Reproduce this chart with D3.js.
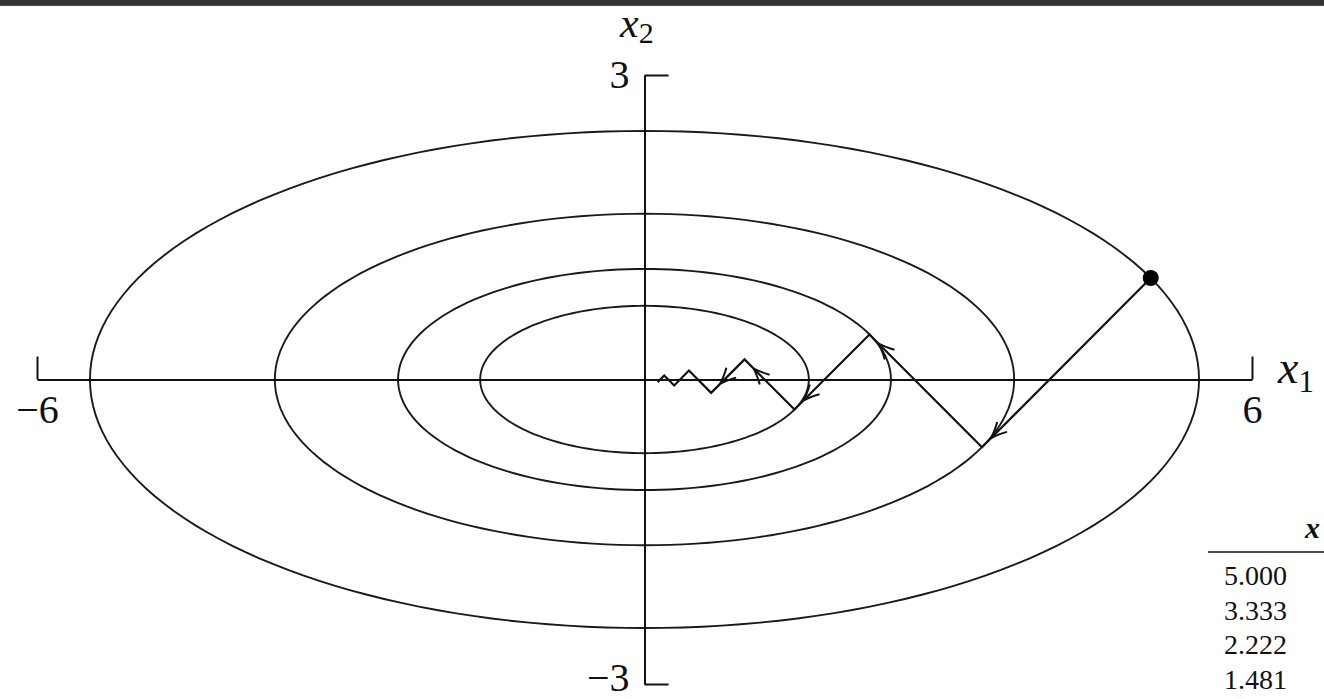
<!DOCTYPE html>
<html>
<head>
<meta charset="utf-8">
<script src="https://cdn.jsdelivr.net/npm/d3@7"></script>
<style>
  html, body { margin: 0; padding: 0; background: #fff; overflow: hidden; }
  .topbar { position: absolute; left: 0; top: 0; width: 1324px; height: 5px; background: #333; border-bottom: 1px solid #4c4c4c; }
  svg { position: absolute; left: 0; top: 0; }
  text { font-family: "Liberation Serif", "DejaVu Serif", serif; fill: #111; }
</style>
</head>
<body>
<div class="topbar"></div>
<div class="canvas"></div>
<script>
var iterX1 = [5.000, 3.333, 2.222, 1.481, 0.988, 0.658, 0.439, 0.293, 0.195, 0.130];
var iterX2 = [1.000, -0.667, 0.444, -0.296, 0.198, -0.132, 0.088, -0.059, 0.039, -0.026];
var arrowCount = 5;

// level curves: semi axes of the ellipses
var ellA = [5.477, 3.651, 2.434, 1.623];
var ellB = [2.449, 1.633, 1.089, 0.726];

var xTicks = [-6, 6];
var yTicks = [-3, 3];

var tableHead = "x";
var tableVals = ["5.000", "3.333", "2.222", "1.481"];

var svg = d3.select(".canvas")
	.append("svg")
	.attr("width", 1324)
	.attr("height", 699);

var x = d3.scaleLinear().domain([-6, 6]).range([37, 1252]);
var y = d3.scaleLinear().domain([-3, 3]).range([684, 75]);

function fmt(d){ return d < 0 ? "\u2212" + Math.abs(d) : "" + d; }

// ELLIPSES
var line = d3.line().x(function(d){ return x(d[0]); }).y(function(d){ return y(d[1]); });
var ts = d3.range(0, 361, 2);
ellA.forEach(function(a, i){
	var b = ellB[i];
	var pts = ts.map(function(t){
		var r = t * Math.PI / 180;
		return [a * Math.cos(r), b * Math.sin(r)];
	});
	svg.append("path")
		.attr("d", line(pts) + "Z")
		.attr("fill", "none")
		.attr("stroke", "#1a1a1a")
		.attr("stroke-width", 1.9);
});

// AXES
var gx = svg.append("g")
	.attr("transform", "translate(0," + y(0) + ")")
	.call(d3.axisTop(x).tickValues(xTicks).tickSize(23).tickSizeOuter(0).tickFormat(fmt));
gx.select(".domain").attr("stroke", "#111").attr("stroke-width", 2);
gx.selectAll(".tick line").attr("stroke", "#111").attr("stroke-width", 2);
gx.selectAll(".tick text")
	.attr("y", 43)
	.attr("dy", null)
	.attr("font-size", 40)
	.attr("font-family", "Liberation Serif");

var gy = svg.append("g")
	.attr("transform", "translate(" + x(0) + ",0)")
	.call(d3.axisRight(y).tickValues(yTicks).tickSize(24).tickSizeOuter(0).tickFormat(fmt));
gy.select(".domain").attr("stroke", "#111").attr("stroke-width", 2);
gy.selectAll(".tick line").attr("stroke", "#111").attr("stroke-width", 2);
gy.selectAll(".tick text")
	.attr("x", -15)
	.attr("dy", function(d){ return d > 0 ? "0.3em" : "0.15em"; })
	.attr("text-anchor", "end")
	.attr("font-size", 40)
	.attr("font-family", "Liberation Serif");

// axis labels
var lx1 = svg.append("text").attr("x", 1278).attr("y", 383).attr("font-size", 46).attr("font-style", "italic");
lx1.append("tspan").text("x");
lx1.append("tspan").attr("dy", 9).attr("font-size", 31).attr("font-style", "normal").text("1");

var lx2 = svg.append("text").attr("x", 620).attr("y", 37).attr("font-size", 42).attr("font-style", "italic");
lx2.append("tspan").text("x");
lx2.append("tspan").attr("dy", 6).attr("font-size", 30).attr("font-style", "normal").text("2");

// PATH OF ITERATES
var iters = iterX1.map(function(v, i){ return [v, iterX2[i]]; });
svg.append("path")
	.attr("d", line(iters))
	.attr("fill", "none")
	.attr("stroke", "#111")
	.attr("stroke-width", 2.2)
	.attr("stroke-linejoin", "miter");

// arrow heads a little before each end point
for (var k = 0; k < arrowCount; k++){
	var p0 = [x(iters[k][0]), y(iters[k][1])];
	var p1 = [x(iters[k+1][0]), y(iters[k+1][1])];
	var dx = p1[0] - p0[0], dy = p1[1] - p0[1];
	var len = Math.sqrt(dx*dx + dy*dy);
	var ux = dx/len, uy = dy/len;
	var tip = [p1[0] - ux*13, p1[1] - uy*13];
	var L = 17, ang = 0.42;
	var w1 = [tip[0] - L*(ux*Math.cos(ang) - uy*Math.sin(ang)), tip[1] - L*(uy*Math.cos(ang) + ux*Math.sin(ang))];
	var w2 = [tip[0] - L*(ux*Math.cos(ang) + uy*Math.sin(ang)), tip[1] - L*(uy*Math.cos(ang) - ux*Math.sin(ang))];
	// slight bend of the wings towards the shaft
	var c1 = [(w1[0] + tip[0]) / 2 - ux*2, (w1[1] + tip[1]) / 2 - uy*2];
	var c2 = [(w2[0] + tip[0]) / 2 - ux*2, (w2[1] + tip[1]) / 2 - uy*2];
	svg.append("path")
		.attr("d", "M" + w1[0] + "," + w1[1] + "Q" + c1[0] + "," + c1[1] + " " + tip[0] + "," + tip[1] +
			"Q" + c2[0] + "," + c2[1] + " " + w2[0] + "," + w2[1])
		.attr("fill", "none")
		.attr("stroke", "#111")
		.attr("stroke-width", 2);
}

// starting point
svg.append("circle")
	.attr("cx", x(iterX1[0]))
	.attr("cy", y(iterX2[0]))
	.attr("r", 8)
	.attr("fill", "#000");

// TABLE (cut off at the right edge)
svg.append("text")
	.attr("x", 1305)
	.attr("y", 538)
	.attr("font-size", 30)
	.attr("font-weight", "bold")
	.attr("font-style", "italic")
	.text(tableHead);

svg.append("line")
	.attr("x1", 1208).attr("x2", 1324)
	.attr("y1", 552).attr("y2", 552)
	.attr("stroke", "#111")
	.attr("stroke-width", 1.5);

var row = d3.scaleLinear().domain([0, 3]).range([585, 689]);
svg.selectAll(".val")
	.data(tableVals)
	.enter()
	.append("text")
	.attr("class", "val")
	.attr("x", 1224)
	.attr("y", function(d, i){ return row(i); })
	.attr("font-size", 28)
	.text(function(d){ return d; });
</script>
</body>
</html>
